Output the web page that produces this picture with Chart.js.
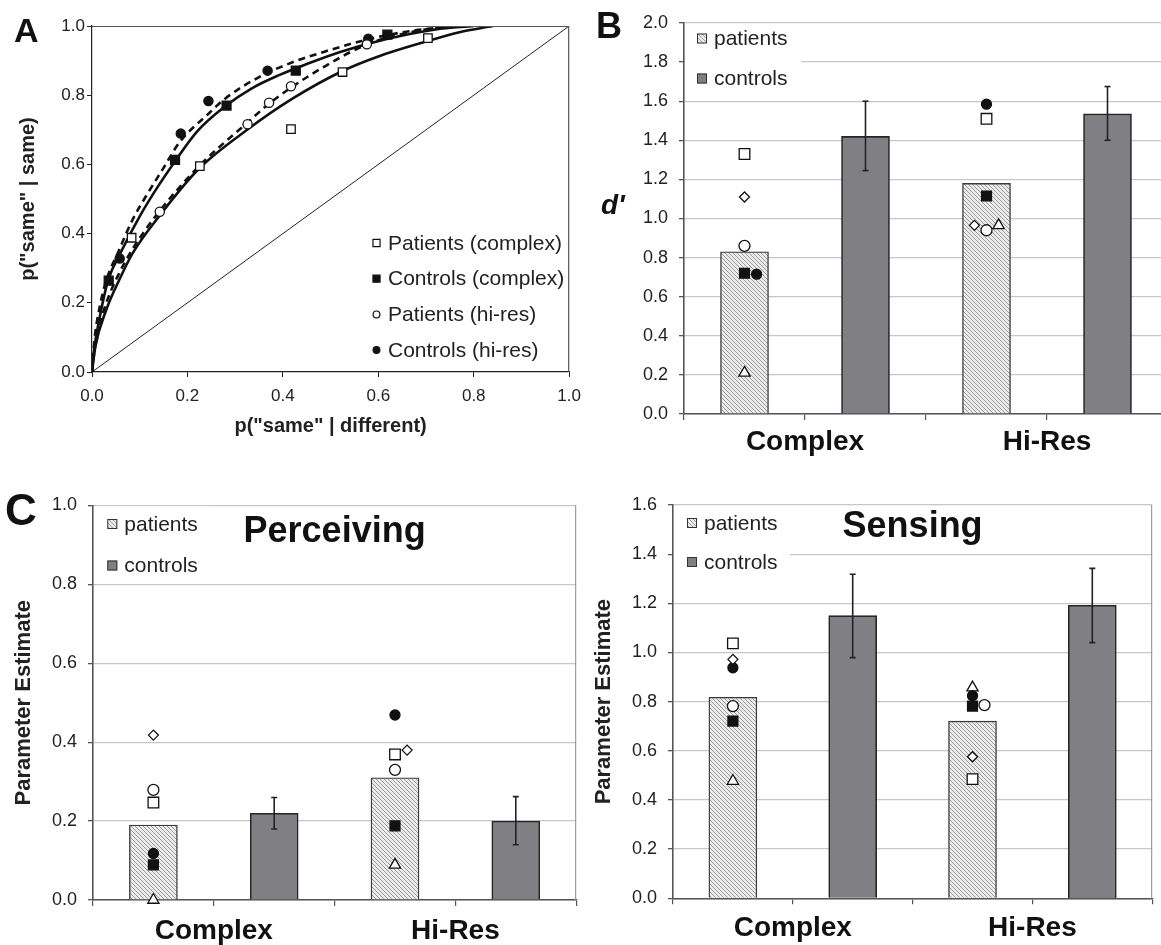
<!DOCTYPE html>
<html>
<head>
<meta charset="utf-8">
<script src="https://cdn.jsdelivr.net/npm/chart.js@4.4.1/dist/chart.umd.min.js"></script>
<style>
  body { margin: 0; width: 1161px; height: 945px; overflow: hidden; position: relative; background: #fff; }
  canvas { position: absolute; }
  .letter { position: absolute; font-family: 'Liberation Sans', Arial, sans-serif; font-weight: bold; line-height: 1; color: #111; }
</style>
</head>
<body>
<canvas id="rocChart" width="590" height="445" style="left:0;top:0"></canvas>
<canvas id="dprimeChart" width="600" height="480" style="left:580px;top:0"></canvas>
<canvas id="perceivingChart" width="585" height="470" style="left:0;top:475px"></canvas>
<canvas id="sensingChart" width="576" height="470" style="left:585px;top:475px"></canvas>
<div class="letter" style="left:14px;top:13px;font-size:34px">A</div>
<div class="letter" style="left:596px;top:8px;font-size:36px">B</div>
<div class="letter" style="left:5px;top:488px;font-size:44px">C</div>
<div class="letter" style="left:601px;top:191px;font-size:28px;font-style:italic">d'</div>
<script>
// panel A : ROC points (false alarm rate / hit rate)
const fpPatComplex = [0.083, 0.226, 0.417, 0.525, 0.704];
const hitPatComplex = [0.388, 0.595, 0.702, 0.867, 0.965];
const fpCtlComplex = [0.035, 0.174, 0.282, 0.427, 0.619];
const hitCtlComplex = [0.264, 0.613, 0.770, 0.871, 0.975];
const fpPatHires = [0.142, 0.326, 0.371, 0.417, 0.576];
const hitPatHires = [0.463, 0.716, 0.778, 0.826, 0.947];
const fpCtlHires = [0.058, 0.186, 0.244, 0.368, 0.579];
const hitCtlHires = [0.328, 0.689, 0.783, 0.871, 0.963];

// fitted ROC curves
const curveXPatComplex = [0, 0.007, 0.03, 0.057, 0.085, 0.14, 0.223, 0.325, 0.42, 0.525, 0.6, 0.7, 0.77, 0.84];
const curveYPatComplex = [0, 0.073, 0.18, 0.266, 0.343, 0.449, 0.586, 0.70, 0.79, 0.87, 0.912, 0.955, 0.982, 1.0];
const curveXCtlComplex = [0, 0.005, 0.015, 0.034, 0.06, 0.1, 0.14, 0.172, 0.22, 0.279, 0.335, 0.392, 0.45, 0.52, 0.62, 0.72, 0.8];
const curveYCtlComplex = [0, 0.07, 0.15, 0.266, 0.345, 0.45, 0.54, 0.605, 0.695, 0.768, 0.82, 0.858, 0.89, 0.925, 0.963, 0.99, 1.0];
const curveXPatHires = [0, 0.005, 0.015, 0.03, 0.055, 0.085, 0.1405, 0.223, 0.325, 0.368, 0.415, 0.49, 0.573, 0.65, 0.72, 0.79];
const curveYPatHires = [0, 0.06, 0.13, 0.20, 0.28, 0.355, 0.463, 0.593, 0.72, 0.772, 0.82, 0.885, 0.945, 0.977, 0.994, 1.0];
const curveXCtlHires = [0, 0.005, 0.015, 0.03, 0.056, 0.085, 0.114, 0.15, 0.184, 0.243, 0.279, 0.351, 0.42, 0.49, 0.58, 0.68, 0.78];
const curveYCtlHires = [0, 0.09, 0.18, 0.265, 0.35, 0.44, 0.51, 0.59, 0.665, 0.745, 0.79, 0.853, 0.895, 0.927, 0.962, 0.988, 1.0];
const chanceLine = [0, 1];

// bar panels
const groups = ['Complex', 'Hi-Res'];

const dPrimePatients = [0.83, 1.18];
const dPrimeControls = [1.42, 1.535];
const dPrimeCtlLow = [1.245, 1.40];
const dPrimeCtlHigh = [1.60, 1.675];
// one row per patient: open square, diamond, open circle, filled square, filled circle, triangle
const dPrimeSubjects = [[1.33, 1.51], [1.11, 0.965], [0.86, 0.94], [0.72, 1.115], [0.715, 1.585], [0.21, 0.965]];
const dPrimeJitter = [[0, 0], [0, -0.1], [0, 0], [0, 0], [0.1, 0], [0, 0.1]];

const percPatients = [0.19, 0.31];
const percControls = [0.22, 0.20];
const percCtlLow = [0.18, 0.14];
const percCtlHigh = [0.26, 0.262];
const percSubjects = [[0.247, 0.369], [0.418, 0.38], [0.279, 0.33], [0.089, 0.188], [0.118, 0.469], [0.0, 0.089]];
const percJitter = [[0, 0], [0, 0.1], [0, 0], [0, 0], [0, 0], [0, 0]];

const sensPatients = [0.818, 0.721];
const sensControls = [1.15, 1.192];
const sensCtlLow = [0.979, 1.04];
const sensCtlHigh = [1.318, 1.342];
const sensSubjects = [[1.037, 0.485], [0.972, 0.576], [0.782, 0.786], [0.721, 0.782], [0.938, 0.824], [0.477, 0.857]];
const sensJitter = [[0, 0], [0, 0], [0, 0.1], [0, 0], [0, 0], [0, 0]];

const FONT = "'Liberation Sans', Arial, sans-serif";
Chart.defaults.font.family = FONT;
Chart.defaults.color = '#222';

const markers = [
  { style: 'rect', fill: '#fff', r: 7.5 },
  { style: 'rectRot', fill: '#fff', r: 5 },
  { style: 'circle', fill: '#fff', r: 5.5 },
  { style: 'rect', fill: '#111', r: 7 },
  { style: 'circle', fill: '#111', r: 5 },
  { style: 'triangle', fill: '#fff', r: 6.5 }
];

function makeHatch() {
  const c = document.createElement('canvas');
  c.width = 4; c.height = 4;
  const g = c.getContext('2d');
  g.fillStyle = '#ebebeb';
  g.fillRect(0, 0, 4, 4);
  g.strokeStyle = '#9c9c9c';
  g.lineWidth = 1;
  g.beginPath();
  g.moveTo(0, 0); g.lineTo(4, 4);
  g.moveTo(-1, 3); g.lineTo(1, 5);
  g.moveTo(3, -1); g.lineTo(5, 1);
  g.stroke();
  return g.createPattern(c, 'repeat');
}
const hatch = makeHatch();

// titles, frame and legends drawn inside the plot area
const panelExtras = {
  id: 'panelExtras',
  beforeDatasetsDraw(chart, args, opts) {
    const { ctx, chartArea: a } = chart;
    if (opts.legendBox) {
      ctx.save();
      ctx.fillStyle = '#fff';
      ctx.fillRect(a.left + 1, a.top + 1, opts.legendBox[0], opts.legendBox[1]);
      ctx.restore();
    }
  },
  afterDatasetsDraw(chart, args, opts) {
    const { ctx, chartArea: a } = chart;
    ctx.save();
    if (opts.frame) {
      ctx.strokeStyle = opts.frame.color;
      ctx.lineWidth = opts.frame.width || 1;
      ctx.beginPath();
      if (opts.frame.top) { ctx.moveTo(a.left, a.top + 0.5); ctx.lineTo(a.right, a.top + 0.5); }
      ctx.moveTo(a.right - 0.5, a.top); ctx.lineTo(a.right - 0.5, a.bottom);
      ctx.stroke();
    }
    if (opts.title) {
      ctx.font = 'bold ' + opts.title.size + 'px ' + FONT;
      ctx.fillStyle = '#111';
      ctx.textAlign = 'center';
      ctx.textBaseline = 'alphabetic';
      ctx.fillText(opts.title.text, (a.left + a.right) / 2, a.top + opts.title.y);
    }
    const lg = opts.legend;
    if (lg) {
      ctx.font = lg.size + 'px ' + FONT;
      ctx.textBaseline = 'middle';
      ctx.textAlign = 'left';
      lg.items.forEach((it, i) => {
        const ds = chart.data.datasets[it.dataset];
        const x = a.left + lg.left;
        const y = a.top + lg.top + i * lg.gap;
        if (lg.box) {
          ctx.fillStyle = ds.backgroundColor;
          ctx.fillRect(x, y - 5, 10, 10);
          ctx.strokeStyle = '#333';
          ctx.lineWidth = 1;
          ctx.strokeRect(x + 0.5, y - 4.5, 9, 9);
        } else {
          ctx.fillStyle = ds.backgroundColor;
          ctx.strokeStyle = ds.borderColor;
          ctx.lineWidth = 1.2;
          Chart.helpers.drawPoint(ctx, { pointStyle: ds.pointStyle, radius: it.r, borderWidth: 1.2, rotation: 0 }, x, y);
        }
        ctx.fillStyle = '#222';
        ctx.fillText(it.text, x + lg.textGap, y + 1);
      });
    }
    ctx.restore();
  }
};

function toPoints(xs, ys) {
  return xs.map((x, i) => ({ x: x, y: ys[i] }));
}

function rocCurve(xs, ys, dashed) {
  return {
    type: 'line', data: toPoints(xs, ys), borderColor: '#111', borderWidth: 2.6,
    borderDash: dashed ? [7, 5] : [], pointRadius: 0, cubicInterpolationMode: 'monotone', fill: false
  };
}

function rocPoints(label, xs, ys, style, fill, r) {
  return {
    type: 'scatter', label: label, data: toPoints(xs, ys), pointStyle: style, pointRadius: r,
    backgroundColor: fill, borderColor: '#111', pointBorderWidth: 1.3, clip: false
  };
}

function createRocChart() {
  new Chart(document.getElementById('rocChart'), {
    type: 'scatter',
    data: {
      datasets: [
        rocPoints('Patients (complex)', fpPatComplex, hitPatComplex, 'rect', '#fff', 6),
        rocPoints('Controls (complex)', fpCtlComplex, hitCtlComplex, 'rect', '#111', 6.3),
        rocPoints('Patients (hi-res)', fpPatHires, hitPatHires, 'circle', '#fff', 4.6),
        rocPoints('Controls (hi-res)', fpCtlHires, hitCtlHires, 'circle', '#111', 4.6),
        rocCurve(curveXPatComplex, curveYPatComplex, false),
        rocCurve(curveXCtlComplex, curveYCtlComplex, false),
        rocCurve(curveXPatHires, curveYPatHires, true),
        rocCurve(curveXCtlHires, curveYCtlHires, true),
        { type: 'line', data: toPoints(chanceLine, chanceLine), borderColor: '#222', borderWidth: 1, pointRadius: 0 }
      ]
    },
    options: {
      responsive: false,
      animation: false,
      layout: { padding: { left: 0, top: 26, right: 19, bottom: 0 } },
      plugins: {
        legend: { display: false },
        tooltip: { enabled: false },
        panelExtras: {
          frame: { color: '#555', top: true, width: 1.2 },
          legend: {
            size: 21, left: 284.5, top: 217, gap: 35.7, textGap: 11.5,
            items: [
              { dataset: 0, text: 'Patients (complex)', r: 5 },
              { dataset: 1, text: 'Controls (complex)', r: 5 },
              { dataset: 2, text: 'Patients (hi-res)', r: 3.4 },
              { dataset: 3, text: 'Controls (hi-res)', r: 3.4 }
            ]
          }
        }
      },
      scales: {
        x: {
          type: 'linear', min: 0, max: 1,
          afterFit: (s) => { s.height = 73; },
          grid: { display: true, drawOnChartArea: false, tickLength: 5, color: '#222' },
          border: { color: '#222', width: 1.2 },
          ticks: { stepSize: 0.2, padding: 9, font: { size: 17 }, callback: (v) => v.toFixed(1) },
          title: { display: true, text: 'p("same" | different)', font: { size: 20, weight: 'bold' }, padding: { top: 0, bottom: 7 } }
        },
        y: {
          min: 0, max: 1,
          afterFit: (s) => { s.width = 92; },
          grid: { display: true, drawOnChartArea: false, tickLength: 5, color: '#222' },
          border: { color: '#222', width: 1.2 },
          ticks: { stepSize: 0.2, padding: 2, font: { size: 17 }, callback: (v) => v.toFixed(1) },
          title: { display: true, text: 'p("same" | same)', font: { size: 20, weight: 'bold' }, padding: { top: 16, bottom: 0 } }
        }
      }
    },
    plugins: [panelExtras]
  });
}

function createBarChart(id, cfg) {
  const slot = (g, k) => g * 2 + k + 0.5;
  const datasets = [
    {
      type: 'bar', label: 'patients', data: cfg.patients.map((v, g) => ({ x: slot(g, 0), y: v })),
      backgroundColor: hatch, borderColor: '#3a3a3a', borderWidth: 1.4, barThickness: 48, grouped: false, order: 3
    },
    {
      type: 'bar', label: 'controls', data: cfg.controls.map((v, g) => ({ x: slot(g, 1), y: v })),
      backgroundColor: '#808084', borderColor: '#262626', borderWidth: 1.6, barThickness: 48, grouped: false, order: 3
    }
  ];
  cfg.low.forEach((lo, g) => {
    datasets.push({
      type: 'line', data: [{ x: slot(g, 1), y: lo }, { x: slot(g, 1), y: cfg.high[g] }],
      borderColor: '#222', borderWidth: 1.6, pointStyle: 'line', pointRadius: 3,
      pointBorderWidth: 1.6, pointBorderColor: '#222', order: 2
    });
  });
  cfg.subjects.forEach((vals, s) => {
    const m = markers[s];
    datasets.push({
      type: 'scatter', data: vals.map((v, g) => ({ x: slot(g, 0) + cfg.jitter[s][g], y: v })),
      pointStyle: m.style, pointRadius: m.r, backgroundColor: m.fill, borderColor: '#111',
      pointBorderWidth: 1.3, clip: false, order: 1
    });
  });

  new Chart(document.getElementById(id), {
    type: 'bar',
    data: { datasets: datasets },
    options: {
      responsive: false,
      animation: false,
      layout: { padding: cfg.padding },
      plugins: {
        legend: { display: false },
        tooltip: { enabled: false },
        panelExtras: {
          legendBox: cfg.legendBox,
          frame: cfg.frame,
          title: cfg.title,
          legend: {
            box: true, size: 21, left: cfg.legend[0], top: cfg.legend[1], gap: cfg.legend[2], textGap: 17,
            items: [{ dataset: 0, text: 'patients' }, { dataset: 1, text: 'controls' }]
          }
        }
      },
      scales: {
        x: {
          type: 'linear', min: 0, max: 4, offset: false,
          afterFit: (s) => { s.height = cfg.xAxisH; },
          grid: { display: true, drawOnChartArea: false, offset: false, tickLength: 6, color: '#555', lineWidth: 1.2 },
          border: { color: '#555', width: 1.6 },
          ticks: {
            stepSize: 1, autoSkip: false, maxRotation: 0, padding: cfg.xPad,
            font: { size: 28, weight: 'bold' }, color: '#111',
            callback: (v) => groups[(v - 1) / 2] || ''
          }
        },
        y: {
          min: 0, max: cfg.yMax,
          afterFit: (s) => { s.width = cfg.yAxisW; },
          grid: { color: '#c6c6c6', lineWidth: 1.3, tickColor: '#555', tickLength: 5 },
          border: { color: '#555', width: 1.6 },
          ticks: { stepSize: 0.2, padding: 11, font: { size: 18 }, callback: (v) => v.toFixed(1) },
          title: cfg.yTitle
            ? { display: true, text: cfg.yTitle, font: { size: 22, weight: 'bold' }, color: '#222', padding: { top: cfg.yTitlePad, bottom: 0 } }
            : { display: false }
        }
      }
    },
    plugins: [panelExtras]
  });
}

window.onload = () => {
  createRocChart();

  createBarChart('dprimeChart', {
    patients: dPrimePatients, controls: dPrimeControls, low: dPrimeCtlLow, high: dPrimeCtlHigh,
    subjects: dPrimeSubjects, jitter: dPrimeJitter,
    yMax: 2.0, yAxisW: 104, xAxisH: 66, xPad: 5,
    padding: { left: 0, top: 23, right: 12, bottom: 0 },
    legendBox: [116, 72], legend: [13, 15.5, 40]
  });

  createBarChart('perceivingChart', {
    patients: percPatients, controls: percControls, low: percCtlLow, high: percCtlHigh,
    subjects: percSubjects, jitter: percJitter,
    yMax: 1.0, yAxisW: 93, xAxisH: 45, xPad: 8,
    yTitle: 'Parameter Estimate', yTitlePad: 11,
    padding: { left: 0, top: 30.5, right: 4.3, bottom: 0 },
    frame: { color: '#8a8a8a' },
    title: { text: 'Perceiving', size: 36, y: 36.2 },
    legendBox: [116, 74], legend: [14.3, 18.5, 41.5]
  });

  createBarChart('sensingChart', {
    patients: sensPatients, controls: sensControls, low: sensCtlLow, high: sensCtlHigh,
    subjects: sensSubjects, jitter: sensJitter,
    yMax: 1.6, yAxisW: 88, xAxisH: 46.7, xPad: 7,
    yTitle: 'Parameter Estimate', yTitlePad: 6,
    padding: { left: 0, top: 30, right: 1, bottom: 0 },
    frame: { color: '#8a8a8a' },
    title: { text: 'Sensing', size: 36, y: 31.7 },
    legendBox: [116, 75], legend: [14, 18, 39]
  });
};
</script>
</body>
</html>
